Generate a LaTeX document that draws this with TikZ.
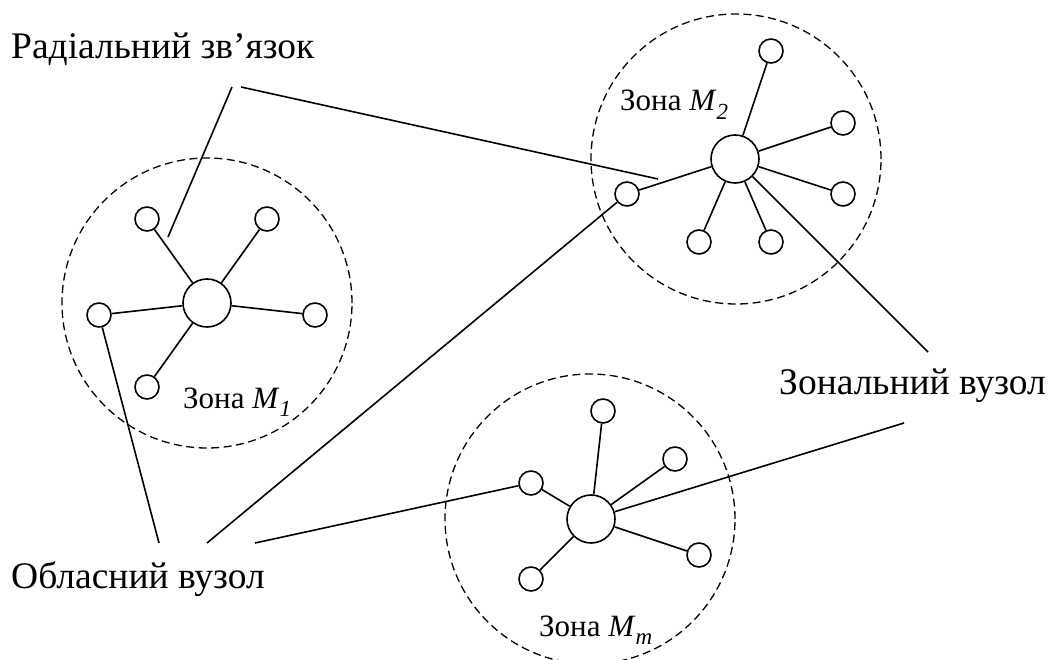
\documentclass[tikz,border=0pt]{standalone}
\usepackage{fontspec}
\setmainfont{Liberation Serif}
\newcommand{\zsub}[1]{\raisebox{-0.28em}{\fontsize{23}{25}\selectfont\textit{#1}}}
\begin{document}
\begin{tikzpicture}[x=1pt,y=-1pt,
  link/.style={line width=1.6pt},
  small/.style={circle,draw,line width=1.6pt,minimum size=24pt,inner sep=0pt},
  hub/.style={circle,draw,line width=1.6pt,minimum size=48pt,inner sep=0pt},
  zone/.style={circle,draw,line width=1.3pt,dash pattern=on 8pt off 4.5pt,minimum size=290pt,inner sep=0pt},
  big/.style={font=\fontsize{37.5}{40}\selectfont,inner sep=0pt,anchor=base west},
  zlabel/.style={font=\fontsize{31}{33}\selectfont,inner sep=0pt,anchor=base west}]
\useasboundingbox (0,0) rectangle (1048,660);
% zones
\node[zone] (z1) at (207,303) {};
\node[zone] (z2) at (736,159) {};
\node[zone] (z3) at (590,519) {};
% zone M1
\node[hub] (c1) at (207,303) {};
\node[small] (a1) at (147,219) {};
\node[small] (b1) at (267,219) {};
\node[small] (l1) at (99,315) {};
\node[small] (r1) at (315,315) {};
\node[small] (d1) at (147,387) {};
\foreach \n in {a1,b1,l1,r1,d1} \draw[link] (c1) -- (\n);
% zone M2
\node[hub] (c2) at (735,159) {};
\node[small] (n2a) at (771,51) {};
\node[small] (n2b) at (843,123) {};
\node[small] (n2c) at (843,194) {};
\node[small] (n2d) at (771,242) {};
\node[small] (n2e) at (699,242) {};
\node[small] (l2) at (627,194) {};
\foreach \n in {n2a,n2b,n2c,n2d,n2e,l2} \draw[link] (c2) -- (\n);
% zone Mm
\node[hub] (c3) at (591,519) {};
\node[small] (n3a) at (603,411) {};
\node[small] (n3b) at (675,459) {};
\node[small] (l3) at (531,483) {};
\node[small] (n3c) at (699,555) {};
\node[small] (n3d) at (531,579) {};
\foreach \n in {n3a,n3b,l3,n3c,n3d} \draw[link] (c3) -- (\n);
% labels
\node[big] (trad) at (11,59) {Радіальний зв’язок};
\node[big] (tobl) at (11,588) {Обласний вузол};
\node[big] (tzon) at (779,394) {Зональний вузол};
\node[zlabel] (tz1) at (183,408) {Зона \textit{M}\zsub{1}};
\node[zlabel] (tz2) at (620,111) {Зона \textit{M}\zsub{2}};
\node[zlabel] (tz3) at (539,636) {Зона \textit{M}\zsub{m}};
% callout lines
\coordinate (radA) at (232,87);
\coordinate (radB) at (241,87);
\coordinate (radE1) at (168,237);
\coordinate (radE2) at (658,179);
\draw[link] (radA) -- (radE1);
\draw[link] (radB) -- (radE2);
\coordinate (obA) at (159,543);
\coordinate (obB) at (207,543);
\coordinate (obC) at (255,543);
\draw[link] (l1) -- (obA);
\draw[link] (obB) -- (l2);
\draw[link] (obC) -- (l3);
\coordinate (zA) at (928,352);
\coordinate (zB) at (904,423);
\draw[link] (c2) -- (zA);
\draw[link] (zB) -- (c3);
\end{tikzpicture}
\end{document}
